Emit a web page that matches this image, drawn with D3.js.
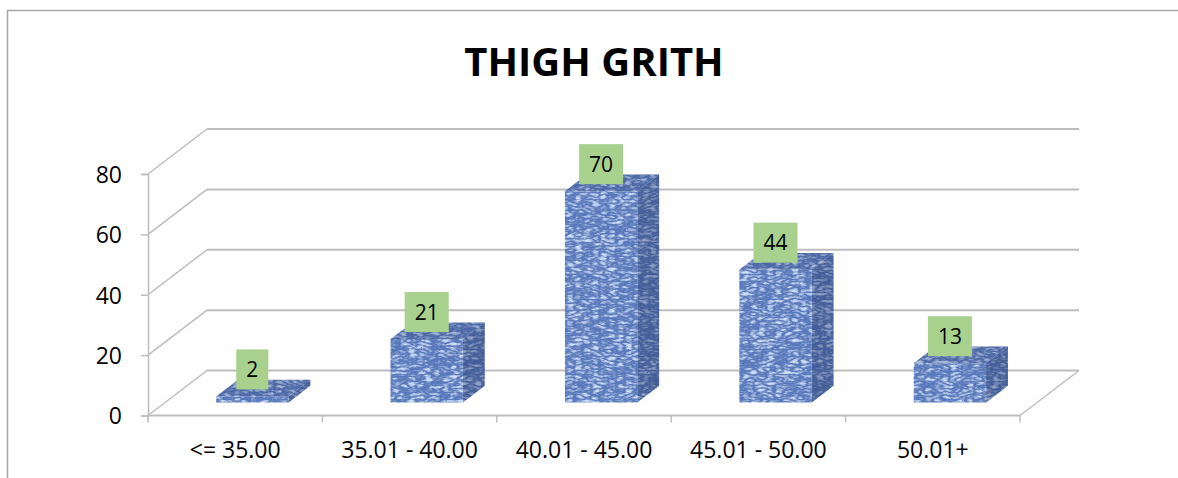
<!DOCTYPE html>
<html>
<head>
<meta charset="utf-8">
<script src="https://cdn.jsdelivr.net/npm/d3@7"></script>
<style>
  html, body { margin: 0; padding: 0; background: #fff; }
  svg { display: block; }
  text { font-family: "Open Sans", Lato, sans-serif; fill: #000; }
</style>
</head>
<body>
<svg id="chart" width="1178" height="478"></svg>
<script>
// Data
const categories = ["<= 35.00", "35.01 - 40.00", "40.01 - 45.00", "45.01 - 50.00", "50.01+"];
const values = [2, 21, 70, 44, 13];
const yTicks = [0, 20, 40, 60, 80];
const title = "THIGH GRITH";

const W = 1178, H = 478;
const FONT = '"Open Sans", Lato, sans-serif';
const svg = d3.select("#chart");

// Plot geometry: front plane and depth vector of the 3D box
const plot = { left: 148, right: 1020, bottom: 415.5, top: 174 };
const depth = { dx: 59, dy: -45 };
const barFront = 0.29, barBack = 0.66;   // bar depth span as fraction of box depth

const x = d3.scaleBand().domain(categories).range([plot.left, plot.right])
  .paddingInner(0.585).paddingOuter(0.2925);
const y = d3.scaleLinear().domain([0, 80]).range([plot.bottom, plot.top]);

const defs = svg.append("defs");

// Marbled texture for the bars
const filt = defs.append("filter").attr("id", "marble")
  .attr("filterUnits", "userSpaceOnUse").attr("x", 0).attr("y", 0).attr("width", W).attr("height", H);
filt.append("feTurbulence").attr("type", "turbulence").attr("baseFrequency", "0.12 0.28")
  .attr("numOctaves", 2).attr("seed", 7).attr("result", "t");
filt.append("feColorMatrix").attr("in", "t").attr("type", "matrix")
  .attr("values", "0 0 0 0 0.62  0 0 0 0 0.74  0 0 0 0 0.95  2.4 0 0 0 -0.42").attr("result", "light");
filt.append("feTurbulence").attr("type", "turbulence").attr("baseFrequency", "0.16 0.4")
  .attr("numOctaves", 2).attr("seed", 19).attr("result", "t2");
filt.append("feColorMatrix").attr("in", "t2").attr("type", "matrix")
  .attr("values", "0 0 0 0 0.18  0 0 0 0 0.27  0 0 0 0 0.52  2.2 0 0 0 -0.35").attr("result", "dark");
filt.append("feMerge").call(m => { m.append("feMergeNode").attr("in", "dark"); m.append("feMergeNode").attr("in", "light"); });
filt.append("feGaussianBlur").attr("stdDeviation", 0.6);

const pat = defs.append("pattern").attr("id", "barTex").attr("patternUnits", "userSpaceOnUse")
  .attr("width", W).attr("height", H);
pat.append("rect").attr("width", W).attr("height", H).attr("fill", "#5677bb");
pat.append("rect").attr("width", W).attr("height", H).attr("fill", "#fff").attr("filter", "url(#marble)");

const grid = "#bdbdbd";

// Outer frame
svg.append("path").attr("d", `M7.5,${H} L7.5,10.5 L${W},10.5`)
  .attr("fill", "none").attr("stroke", "#a6a6a6").attr("stroke-width", 1.5);

// Back wall gridlines and left wall diagonals
const g = svg.append("g");
yTicks.forEach(t => {
  const yy = y(t);
  g.append("line").attr("x1", plot.left + depth.dx).attr("x2", plot.right + depth.dx)
    .attr("y1", yy + depth.dy).attr("y2", yy + depth.dy)
    .attr("stroke", grid).attr("stroke-width", 2);
  g.append("line").attr("x1", plot.left).attr("y1", yy)
    .attr("x2", plot.left + depth.dx).attr("y2", yy + depth.dy)
    .attr("stroke", grid).attr("stroke-width", 1.5);
});
// Floor edges
g.append("line").attr("x1", plot.right).attr("y1", plot.bottom)
  .attr("x2", plot.right + depth.dx).attr("y2", plot.bottom + depth.dy)
  .attr("stroke", grid).attr("stroke-width", 1.5);
g.append("line").attr("x1", plot.left).attr("x2", plot.right)
  .attr("y1", plot.bottom).attr("y2", plot.bottom)
  .attr("stroke", grid).attr("stroke-width", 2);

// Value axis
const yAxis = svg.append("g").attr("transform", `translate(${plot.left},0)`)
  .call(d3.axisLeft(y).tickValues(yTicks).tickSize(7).tickPadding(19));
yAxis.attr("font-family", FONT).attr("font-size", 23);
yAxis.select(".domain").attr("stroke", grid).attr("stroke-width", 1.5);
yAxis.selectAll(".tick line").attr("stroke", grid).attr("stroke-width", 1.5);
yAxis.selectAll(".tick text").attr("dy", "0.36em").attr("fill", "#000");

// Category axis
const xTickPos = d3.range(categories.length + 1).map(i => plot.left + i * (plot.right - plot.left) / categories.length);
const xAxis = svg.append("g");
xTickPos.forEach(px => {
  xAxis.append("line").attr("x1", px).attr("x2", px).attr("y1", plot.bottom).attr("y2", plot.bottom + 7)
    .attr("stroke", grid).attr("stroke-width", 1.5);
});
xAxis.selectAll("text.cat").data(categories).join("text").attr("class", "cat")
  .attr("x", d => x(d) + x.bandwidth() / 2).attr("y", 458)
  .attr("text-anchor", "middle").attr("font-size", 23).text(d => d);

// Bars (side face, top face, front face)
const bars = svg.append("g");
categories.forEach((c, i) => {
  const v = values[i];
  const x0 = x(c), x1 = x(c) + x.bandwidth();
  const yb = y(0), yt = y(v);
  const fx = barFront * depth.dx, fy = barFront * depth.dy;
  const bx = barBack * depth.dx, by = barBack * depth.dy;
  const front = [[x0 + fx, yb + fy], [x1 + fx, yb + fy], [x1 + fx, yt + fy], [x0 + fx, yt + fy]];
  const side = [[x1 + fx, yb + fy], [x1 + bx, yb + by], [x1 + bx, yt + by], [x1 + fx, yt + fy]];
  const top = [[x0 + fx, yt + fy], [x1 + fx, yt + fy], [x1 + bx, yt + by], [x0 + bx, yt + by]];
  const line = d3.line();
  const bg = bars.append("g");
  bg.append("path").attr("d", line(side) + "Z").attr("fill", "url(#barTex)");
  bg.append("path").attr("d", line(side) + "Z").attr("fill", "#1c2f5e").attr("opacity", 0.35);
  bg.append("path").attr("d", line(top) + "Z").attr("fill", "url(#barTex)");
  bg.append("path").attr("d", line(top) + "Z").attr("fill", "#1c2f5e").attr("opacity", 0.2);
  bg.append("path").attr("d", line(front) + "Z").attr("fill", "url(#barTex)");
});

// Data labels
const labels = svg.append("g");
categories.forEach((c, i) => {
  const v = values[i];
  const cx = x(c) + x.bandwidth() / 2 + barFront * depth.dx;
  const bottom = y(v) + barFront * depth.dy - 7;
  const lg = labels.append("g");
  const t = lg.append("text").attr("x", cx).attr("y", bottom - 12.5)
    .attr("text-anchor", "middle").attr("font-size", 21).text(v);
  const w = t.node().getComputedTextLength() + 20;
  lg.insert("rect", "text").attr("x", cx - w / 2).attr("y", bottom - 40)
    .attr("width", w).attr("height", 40).attr("fill", "#a9d18e");
});

// Title
svg.append("text").attr("x", 594).attr("y", 76).attr("text-anchor", "middle")
  .attr("font-size", 40).attr("font-weight", "bold").text(title);
</script>
</body>
</html>
